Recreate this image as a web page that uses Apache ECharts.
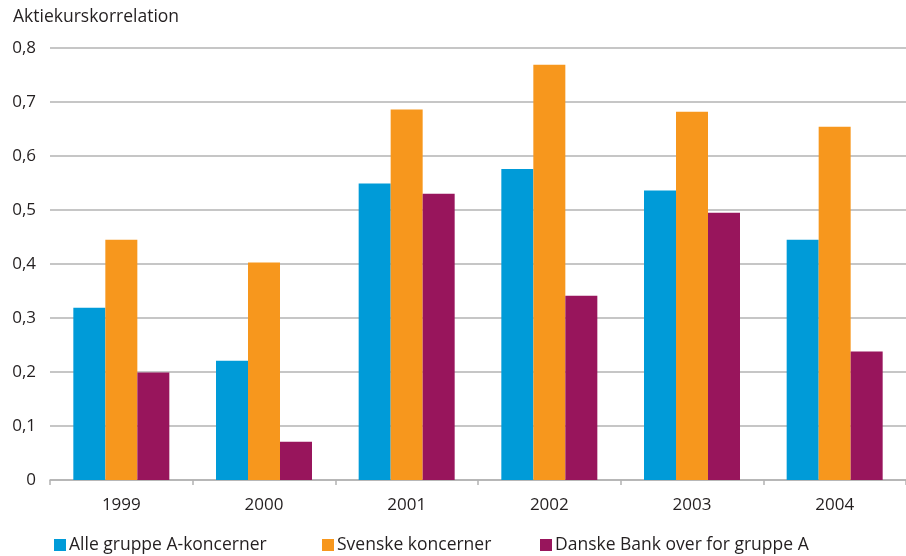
<!DOCTYPE html>
<html>
<head>
<meta charset="utf-8">
<script src="https://cdn.jsdelivr.net/npm/echarts@6/dist/echarts.min.js"></script>
<style>
  html, body { margin: 0; padding: 0; background: #fff; }
  #chart { width: 906px; height: 556px; }
</style>
</head>
<body>
<div id="chart"></div>
<script>
// data
const years = ['1999', '2000', '2001', '2002', '2003', '2004'];
const alleGruppeA = [0.319, 0.221, 0.549, 0.576, 0.536, 0.445];
const svenske = [0.445, 0.403, 0.686, 0.769, 0.682, 0.654];
const danskeBank = [0.199, 0.071, 0.530, 0.341, 0.495, 0.238];
const seriesNames = ['Alle gruppe A-koncerner', 'Svenske koncerner', 'Danske Bank over for gruppe A'];

const font = '"Open Sans", "Noto Sans", sans-serif';
const textColor = '#231f20';

const chart = echarts.init(document.getElementById('chart'));

function legendAt(name, left) {
  return {
    data: [name],
    left: left,
    top: 531,
    itemWidth: 12,
    itemHeight: 12,
    itemGap: 4,
    icon: 'rect',
    textStyle: {fontFamily: font, fontSize: 17.5, color: textColor, padding: [0, 0, 0, -2]}
  };
}

chart.setOption({
  animation: false,
  title: {
    text: 'Aktiekurskorrelation',
    left: 8,
    top: 3,
    textStyle: {fontFamily: font, fontSize: 17.5, fontWeight: 'normal', color: textColor}
  },
  legend: [
    legendAt(seriesNames[0], 49),
    legendAt(seriesNames[1], 317),
    legendAt(seriesNames[2], 535)
  ],
  grid: {left: 50, right: 0, top: 48, bottom: 76},
  xAxis: {
    type: 'category',
    data: years,
    axisLine: {lineStyle: {color: '#b3b3b3', width: 1.5}},
    axisTick: {show: true, length: 5, lineStyle: {color: '#b3b3b3', width: 1.5}},
    axisLabel: {fontFamily: font, fontSize: 17, color: textColor, margin: 17}
  },
  yAxis: {
    type: 'value',
    min: 0,
    max: 0.8,
    interval: 0.1,
    axisLine: {show: false},
    axisTick: {show: false},
    splitLine: {lineStyle: {color: '#b3b3b3', width: 1.5}},
    axisLabel: {
      fontFamily: font, fontSize: 17, color: textColor, margin: 14,
      formatter: v => v === 0 ? '0' : v.toFixed(1).replace('.', ',')
    }
  },
  series: [
    {name: seriesNames[0], type: 'bar', data: alleGruppeA, barWidth: 32, barGap: '0%',
     itemStyle: {color: '#009bd8'}},
    {name: seriesNames[1], type: 'bar', data: svenske, barWidth: 32, barGap: '0%',
     itemStyle: {color: '#f7971d'}},
    {name: seriesNames[2], type: 'bar', data: danskeBank, barWidth: 32, barGap: '0%',
     itemStyle: {color: '#98155c'}}
  ]
});
</script>
</body>
</html>
